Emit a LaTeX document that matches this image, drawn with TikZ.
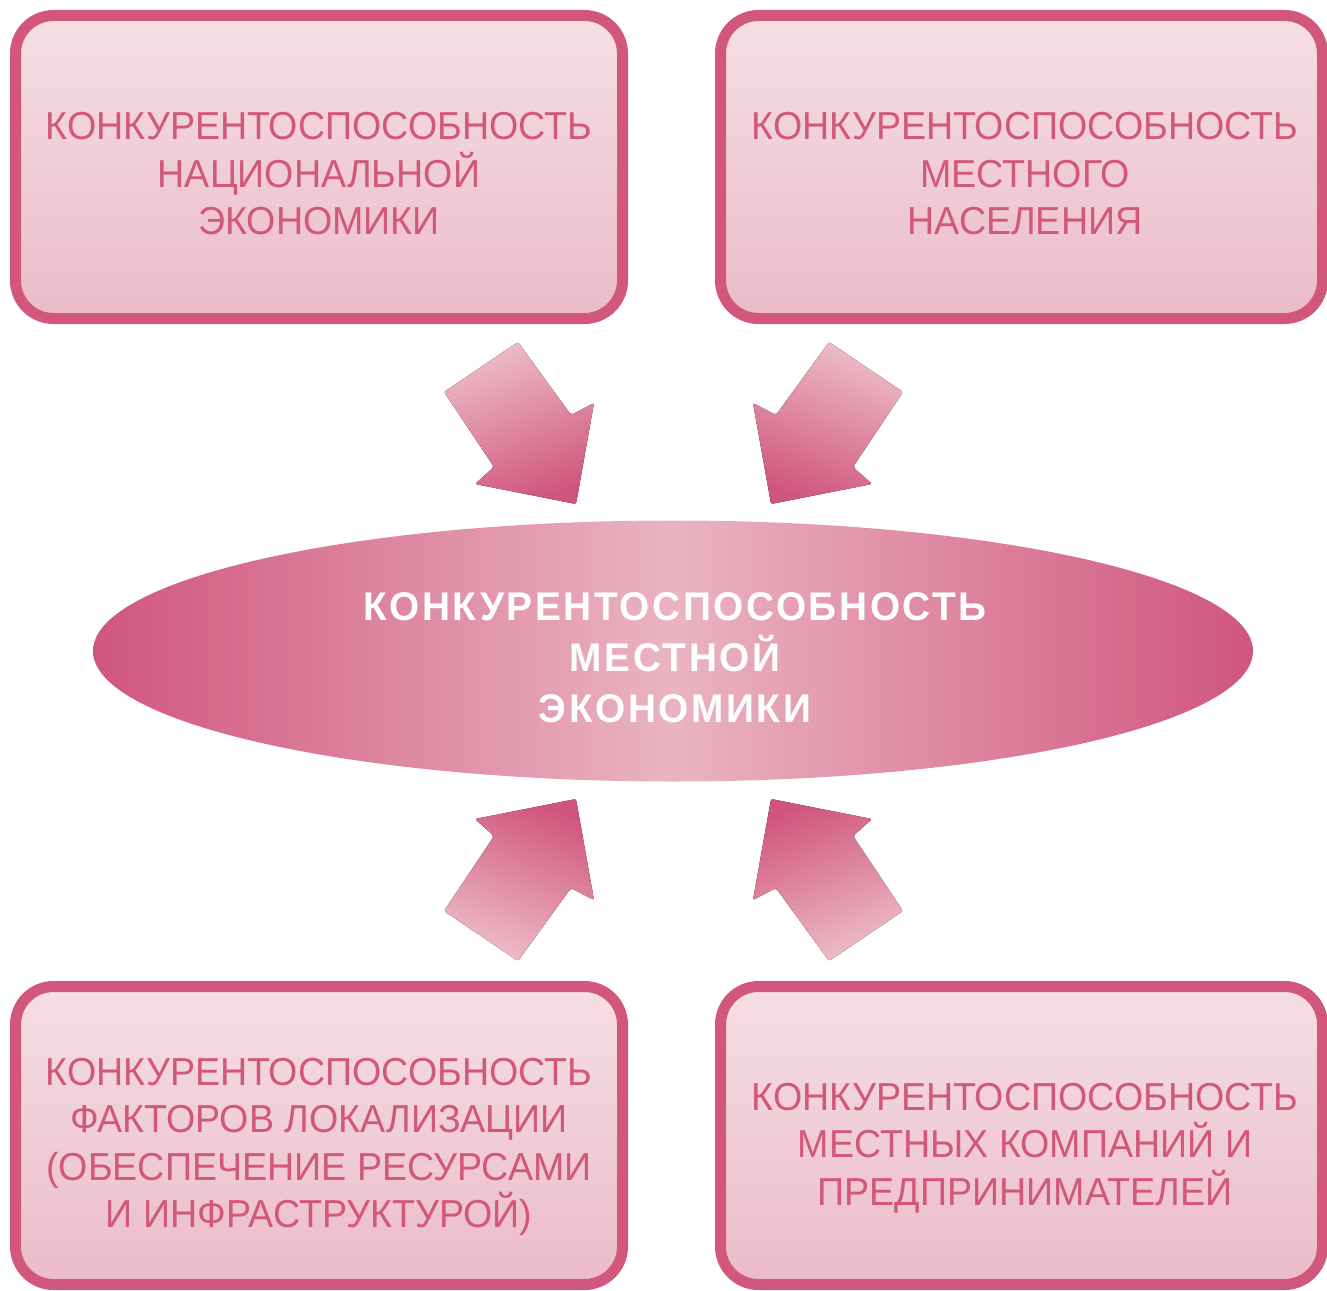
\documentclass[tikz,border=0pt]{standalone}
\usepackage{fontspec}
\setmainfont{Liberation Sans}
\newfontfamily\boxfont[FakeStretch=0.965]{Liberation Sans}
\newfontfamily\centerfont[FakeStretch=0.97,LetterSpace=6.5]{Liberation Sans Bold}
\usetikzlibrary{shapes.geometric}
\definecolor{pborder}{HTML}{D2577C}
\definecolor{pboxtop}{HTML}{F5DFE4}
\definecolor{pboxbot}{HTML}{EBBBC9}
\definecolor{adark}{HTML}{D0557C}
\definecolor{alight}{HTML}{EDBDC8}
\definecolor{edark}{HTML}{D0567D}
\definecolor{elight}{HTML}{EAB4C2}
\tikzset{
  pinkbox/.style={draw=pborder, line width=11pt, rounded corners=38pt,
    top color=pboxtop, bottom color=pboxbot, minimum width=607pt,
    minimum height=303pt, inner sep=0pt},
  boxtext/.style={text=pborder, align=center, inner sep=0pt,
    font=\boxfont\fontsize{39}{47.5}\selectfont},
  bigarrow/.style={rounded corners=2pt},
}
\begin{document}
\begin{tikzpicture}[x=1pt,y=-1pt]
\useasboundingbox (0,0) rectangle (1327,1290);
\clip (0,0) rectangle (1327,1290);
% boxes
\node[pinkbox] (tl) at (319,167) {};
\node[pinkbox, minimum width=602pt] (tr) at (1021.5,167) {};
\node[pinkbox, minimum height=298pt] (bl) at (319,1135.5) {};
\node[pinkbox, minimum width=602pt, minimum height=298pt] (br) at (1021.5,1135.5) {};
\node[boxtext] (tlt) at (319,174) {КОНКУРЕНТОСПОСОБНОСТЬ\\НАЦИОНАЛЬНОЙ\\ЭКОНОМИКИ};
\node[boxtext] (trt) at (1025,174) {КОНКУРЕНТОСПОСОБНОСТЬ\\МЕСТНОГО\\НАСЕЛЕНИЯ};
\node[boxtext] (blt) at (319,1147) {КОНКУРЕНТОСПОСОБНОСТЬ\\ФАКТОРОВ ЛОКАЛИЗАЦИИ\\(ОБЕСПЕЧЕНИЕ РЕСУРСАМИ\\И ИНФРАСТРУКТУРОЙ)};
\node[boxtext] (brt) at (1025,1148) {КОНКУРЕНТОСПОСОБНОСТЬ\\МЕСТНЫХ КОМПАНИЙ И\\ПРЕДПРИНИМАТЕЛЕЙ};
% center ellipse
\node[ellipse, minimum width=1160pt, minimum height=261pt, inner sep=0pt,
  left color=edark, right color=edark, middle color=elight] (c) at (673,651) {};
\node[text=white, align=center, inner sep=0pt,
  font=\centerfont\fontsize{40}{51}\selectfont] (ct) at (675,658)
  {КОНКУРЕНТОСПОСОБНОСТЬ\\МЕСТНОЙ\\ЭКОНОМИКИ};
% arrows
\fill[bigarrow, top color=alight, bottom color=adark, shading angle=20]
  (518,342) -- (444,392) -- (494,467) -- (475,484) -- (576,504) -- (594,403) -- (571,415) -- cycle;
\fill[bigarrow, top color=alight, bottom color=adark, shading angle=-20]
  (829,342) -- (903,392) -- (853,467) -- (872,484) -- (771,504) -- (753,403) -- (776,415) -- cycle;
\fill[bigarrow, top color=adark, bottom color=alight, shading angle=-20]
  (518,961) -- (444,911) -- (494,836) -- (475,819) -- (576,799) -- (594,900) -- (571,888) -- cycle;
\fill[bigarrow, top color=adark, bottom color=alight, shading angle=20]
  (829,961) -- (903,911) -- (853,836) -- (872,819) -- (771,799) -- (753,900) -- (776,888) -- cycle;
\end{tikzpicture}
\end{document}
